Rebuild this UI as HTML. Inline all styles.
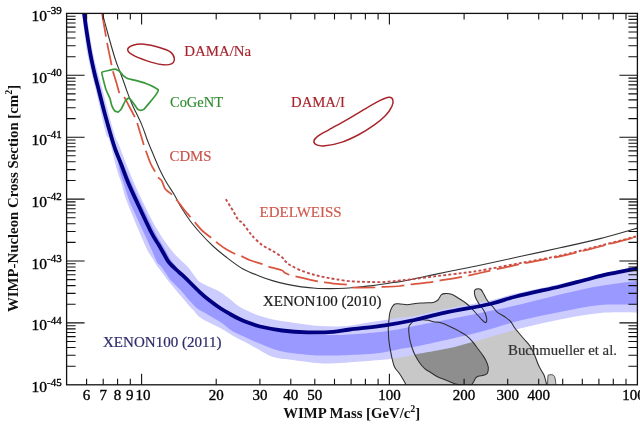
<!DOCTYPE html>
<html><head><meta charset="utf-8"><style>html,body{margin:0;padding:0;background:#fff;width:640px;height:425px;overflow:hidden}svg{display:block}</style></head>
<body><svg width="640" height="425" viewBox="0 0 640 425" font-family="'Liberation Serif', serif">
<rect width="640" height="425" fill="#fff"/>
<defs><clipPath id="c"><rect x="66.6" y="13.4" width="570.8" height="371.40000000000003"/></clipPath></defs>
<g clip-path="url(#c)">
  <path d="M406.7,386C406,384.8 403.9,380.9 402.7,378.8C401.5,376.7 400.7,375.4 399.4,373.5C398.1,371.6 395.9,369.6 394.8,367.6C393.7,365.6 393.5,364.2 392.8,361.7C392.1,359.2 391.5,355.9 390.8,352.4C390.1,348.9 389.3,344.3 388.9,340.6C388.5,336.9 388.4,332.6 388.3,330C388.2,327.4 388.3,328.1 388.5,325.3C388.7,322.6 389.1,316.5 389.7,313.5C390.3,310.5 391.2,308.7 392.1,307.1C393,305.5 393.6,304.4 395,303.9C396.4,303.4 398.2,303.8 400.3,303.9C402.4,304 404.8,304.8 407.4,304.7C409.9,304.6 412.9,303.8 415.6,303.5C418.3,303.2 420.9,303.1 423.8,302.9C426.7,302.7 430.9,302.9 433.2,302.4C435.5,301.9 436.5,301.3 437.9,300C439.3,298.7 440.2,295.8 441.5,294.7C442.8,293.6 443.7,293.7 445.4,293.6C447.1,293.5 449.3,293.5 451.6,294.3C453.9,295.1 456.5,297 459,298.5C461.5,300 464.1,301.7 466.4,303.5C468.7,305.3 470.7,307.4 472.6,309.4C474.5,311.4 476.4,313.8 478,315.5C479.6,317.2 480.9,318.7 482,319.8C483.1,320.9 483.9,321.9 484.6,322.2C485.4,322.5 486.2,322.4 486.5,321.8C486.8,321.2 486.8,319.9 486.6,318.5C486.4,317.1 485.9,315.1 485.3,313.5C484.7,311.9 483.8,310.5 482.8,309C481.8,307.5 480.5,305.9 479.5,304.5C478.5,303.1 477.8,301.9 477,300.5C476.2,299.1 475.4,297.5 475,296C474.6,294.5 474.3,292.6 474.4,291.5C474.5,290.4 474.9,289.8 475.5,289.3C476.1,288.8 477.4,288.7 478.3,288.7C479.2,288.7 480,288.8 480.8,289.5C481.6,290.2 482.3,291.3 483.2,292.9C484.1,294.4 485.2,297.1 486.2,298.8C487.2,300.5 488,301.6 489.1,302.9C490.2,304.2 491.2,304.9 492.6,306.5C494,308.1 495.4,310.7 497.4,312.4C499.4,314.1 502.2,315 504.4,316.5C506.5,318 508.6,319.4 510.3,321.2C512,323 513.1,325.7 514.4,327.5C515.7,329.3 516.4,330.1 518,332C519.6,333.9 522,336.7 524,339C526,341.3 528.2,343.2 530,346C531.8,348.8 533.7,353 535,356C536.3,359 537,361.7 538,364C539,366.3 540,368.2 541,370C542,371.8 543.2,373 544,375C544.8,377 545.5,380.2 546,382C546.5,383.8 546.8,385.3 547,386" fill="#c8c8c8"/>
  <path d="M547.5,386C547.6,384.3 547.7,377.9 548,376C548.3,374.1 548.7,375 549.5,374.8C550.3,374.6 552.1,374.5 553,375C553.9,375.5 554.5,376.2 555,378C555.5,379.8 555.8,384.7 556,386" fill="#c8c8c8" stroke="#444" stroke-width="0.9"/>
  <path d="M408.8,327.6C409,325.3 409.7,325.2 410.6,324.1C411.5,323 412.3,321.6 414.1,320.9C415.9,320.2 418.9,319.8 421.2,319.7C423.5,319.6 426.1,319.8 428.2,320.2C430.2,320.6 431.5,321.4 433.5,321.8C435.5,322.2 437.4,321.9 440,322.6C442.6,323.3 446.2,324.8 449.3,326.2C452.4,327.6 455.9,329.3 458.7,330.9C461.5,332.5 464.1,333.8 466.4,335.6C468.7,337.4 470.9,339.7 472.7,341.8C474.5,343.9 475.8,345.9 477.3,348C478.9,350.1 480.6,352.1 482,354.2C483.4,356.3 484.9,358.3 485.9,360.4C486.9,362.5 487.9,364.6 488.2,366.7C488.4,368.8 488.2,371.8 487.4,373.2C486.6,374.6 484.9,374.7 483.5,375.2C482.1,375.7 480.2,375.6 478.9,376C477.6,376.4 476.7,376.8 475.8,377.8C474.9,378.8 474.3,381 473.4,382.2C472.5,383.4 472.2,384.5 470.5,385C468.8,385.5 465.5,385.2 463,385C460.5,384.8 457.9,384.6 455.6,384C453.3,383.4 451.4,382.2 449.3,381.4C447.2,380.6 445.2,379.9 443.1,379.1C441.1,378.3 439.2,377.7 437,376.5C434.8,375.3 432.1,373.3 430,372C427.9,370.7 426.5,370.2 424.7,368.6C422.9,367 421,364.8 419.4,362.5C417.8,360.2 416.3,357.6 415,355C413.7,352.4 412.7,349.8 411.8,347C410.9,344.2 410,341.2 409.5,338C409,334.8 408.6,329.9 408.8,327.6Z" fill="#8e8e8e"/>
  <path d="M86,10C87.2,17.2 90.1,39.2 93,53C95.9,66.8 99.8,79.7 103.3,93C106.8,106.3 111.4,124.3 114,133C116.6,141.7 116.6,138.8 119,145C121.4,151.2 124.8,160.8 128.6,170C132.4,179.2 137.2,190 142,200C146.8,210 152.6,221.7 157.5,230C162.4,238.3 167.5,245 171.3,250C175.1,255 177.8,257.1 180.5,259.9C183.2,262.6 185,263.7 187.5,266.5C190,269.3 193.2,274.3 195.3,276.9C197.4,279.5 197.4,280.2 200,282C202.6,283.8 207.5,285.8 211,287.5C214.5,289.2 217.7,290.4 221,292.5C224.3,294.6 227.8,297.6 231,300C234.2,302.4 235.8,304.6 240,307C244.2,309.4 250.5,312.4 256,314.5C261.5,316.6 267.5,318.2 273,319.5C278.5,320.8 283.5,321.2 289,322C294.5,322.8 300.8,323.8 306,324.5C311.2,325.2 315.2,325.7 320,326C324.8,326.3 330,326.5 335,326.5C340,326.5 344.2,326.5 350,325.8C355.8,325.1 363.8,323.3 370,322.3C376.2,321.3 382.5,320.6 387.5,319.8C392.5,319 395.6,318.1 400,317.5C404.4,316.9 406.5,317.4 414,316C421.5,314.6 432.3,311.6 445,309C457.7,306.4 478.2,303.1 490,300.5C501.8,297.9 504.3,296.2 516,293.5C527.7,290.8 548.5,286.6 560,284C571.5,281.4 576.8,280 585,278C593.2,276 599.8,274 609,272C618.2,270 634.8,267 640,266L640,312.5C633.3,312.6 613.3,311.8 600,313C586.7,314.2 573.3,316.9 560,319.5C546.7,322.1 533.3,325.1 520,328.5C506.7,331.9 491.7,336.8 480,340C468.3,343.2 460,345.8 450,348C440,350.2 428.3,351.9 420,353.5C411.7,355.1 406.7,356.4 400,357.5C393.3,358.6 388.3,359.2 380,360C371.7,360.8 357.5,361.8 350,362.3C342.5,362.9 340,363.1 335,363.3C330,363.5 324.8,363.6 320,363.3C315.2,363.1 311.2,362.4 306,361.8C300.8,361.2 294.5,360.3 289,359.5C283.5,358.7 278.5,358.9 273,357C267.5,355.1 260.5,350.4 256,348C251.5,345.6 249.3,344.1 246,342.4C242.7,340.6 240.2,339.8 236,337.5C231.8,335.2 225.2,330.8 221,328.5C216.8,326.2 214.4,325.2 211,323.5C207.6,321.8 203.1,319.4 200.8,318C198.5,316.6 198.7,316.3 197.4,315C196.1,313.7 194.6,311.6 193.2,310C191.8,308.4 190.4,307.3 189,305.7C187.6,304.1 186.1,302.3 184.7,300.6C183.3,298.9 181.9,297.3 180.5,295.6C179.1,293.9 177.9,292.6 176.2,290.5C174.4,288.4 171.8,285.2 170,283C168.2,280.8 167.3,279.6 165.7,277.5C164.1,275.4 162.1,272.6 160.6,270.5C159.1,268.4 157.7,266.9 156.4,265C155.1,263.1 154.5,261.5 153,259C151.5,256.5 149.7,254.8 147.3,250C144.9,245.2 142.1,238.3 138.6,230C135.1,221.7 129.2,207.8 126.3,200C123.4,192.2 123,188 121.4,183C119.9,178 119,177.2 117,170C115,162.8 111.2,146.2 109.3,140C107.4,133.8 107.9,140.8 105.8,133C103.7,125.2 99.6,106.3 96.5,93C93.4,79.7 89.7,66.8 87.2,53C84.8,39.2 82.7,17.2 81.8,10Z" fill="#ccccff"/>
  <path d="M83.6,10C84.7,17.2 87.5,39.2 90.2,53C92.9,66.8 96.2,79.7 99.5,93C102.8,106.3 107.5,123.5 110.2,133C112.9,142.5 113.3,144.7 115.5,150C117.7,155.3 120.8,159.5 123.5,165C126.2,170.5 128.3,176.1 131.5,183C134.7,189.9 138.5,198.2 142.5,206.5C146.5,214.8 152,226.6 155.3,233C158.6,239.4 160.2,241.1 162.3,244.8C164.4,248.5 166.5,252.3 168,255C169.5,257.7 169.8,258.8 171.5,261C173.2,263.2 176,266.2 178,268.5C180,270.8 181.4,272.2 183.5,274.5C185.6,276.8 187.8,279 190.5,282C193.2,285 196.8,289.2 200,292.3C203.2,295.4 206.7,298.2 210,300.8C213.3,303.4 216.7,305.8 220,308C223.3,310.2 226.7,312.1 230,314C233.3,315.9 236.7,317.8 240,319.3C243.3,320.9 246.7,322.1 250,323.3C253.3,324.5 254.7,325.3 260,326.5C265.3,327.7 274,329.3 282,330.5C290,331.7 300,333.1 308,333.8C316,334.6 323,334.9 330,335C337,335.1 341.7,335 350,334.5C358.3,334 371.7,332.9 380,332C388.3,331.1 393.3,330.2 400,329C406.7,327.8 412.5,326.5 420,325C427.5,323.5 435,322 445,320C455,318 467.5,315.6 480,313C492.5,310.4 506.7,307.6 520,304.5C533.3,301.4 546.7,297.6 560,294.5C573.3,291.4 586.7,288.3 600,286C613.3,283.7 633.3,281.4 640,280.5L640,305C633.3,305 613.3,303.8 600,305C586.7,306.2 573.3,309.4 560,312C546.7,314.6 533.3,317.2 520,320.5C506.7,323.8 491.7,328.9 480,332C468.3,335.1 460,336.7 450,339C440,341.3 428.3,344.1 420,345.8C411.7,347.5 406.7,347.8 400,349C393.3,350.2 388.3,352 380,353C371.7,354 358.3,354.6 350,355C341.7,355.4 336.7,355.5 330,355.5C323.3,355.5 318.3,355.8 310,355C301.7,354.2 289,353.2 280,351C271,348.8 261.8,344.3 256,342C250.2,339.7 248.8,338.8 245,337C241.2,335.2 237,333.9 233,331.5C229,329.1 224.7,325 221,322.5C217.3,320 213.7,318.1 211,316.5C208.3,314.9 207.3,314.3 205,313C202.7,311.7 200.1,310.7 197.4,308.5C194.7,306.3 191.8,303.1 189,300C186.2,296.9 182.8,292.5 180.5,290C178.2,287.5 177.2,286.8 175.5,285C173.8,283.2 171.6,281.5 170,279.5C168.4,277.5 167.1,275.1 165.7,273C164.3,270.9 162.9,268.8 161.5,267C160.1,265.2 158.6,264.8 157,262C155.4,259.2 154.2,255.3 151.8,250C149.4,244.7 145.9,237.2 142.6,230C139.3,222.8 134.1,211.5 131.8,206.5C129.5,201.5 130.4,203.9 129,200C127.6,196.1 125.2,188 123.6,183C122,178 120.8,175.5 119.5,170C118.2,164.5 117,156.2 115.5,150C114,143.8 112.9,142.5 110.2,133C107.5,123.5 102.8,106.3 99.5,93C96.2,79.7 92.9,66.8 90.2,53C87.5,39.2 84.7,17.2 83.6,10Z" fill="#9999ff"/>
  <path d="M406.7,386C406,384.8 403.9,380.9 402.7,378.8C401.5,376.7 400.7,375.4 399.4,373.5C398.1,371.6 395.9,369.6 394.8,367.6C393.7,365.6 393.5,364.2 392.8,361.7C392.1,359.2 391.5,355.9 390.8,352.4C390.1,348.9 389.3,344.3 388.9,340.6C388.5,336.9 388.4,332.6 388.3,330C388.2,327.4 388.3,328.1 388.5,325.3C388.7,322.6 389.1,316.5 389.7,313.5C390.3,310.5 391.2,308.7 392.1,307.1C393,305.5 393.6,304.4 395,303.9C396.4,303.4 398.2,303.8 400.3,303.9C402.4,304 404.8,304.8 407.4,304.7C409.9,304.6 412.9,303.8 415.6,303.5C418.3,303.2 420.9,303.1 423.8,302.9C426.7,302.7 430.9,302.9 433.2,302.4C435.5,301.9 436.5,301.3 437.9,300C439.3,298.7 440.2,295.8 441.5,294.7C442.8,293.6 443.7,293.7 445.4,293.6C447.1,293.5 449.3,293.5 451.6,294.3C453.9,295.1 456.5,297 459,298.5C461.5,300 464.1,301.7 466.4,303.5C468.7,305.3 470.7,307.4 472.6,309.4C474.5,311.4 476.4,313.8 478,315.5C479.6,317.2 480.9,318.7 482,319.8C483.1,320.9 483.9,321.9 484.6,322.2C485.4,322.5 486.2,322.4 486.5,321.8C486.8,321.2 486.8,319.9 486.6,318.5C486.4,317.1 485.9,315.1 485.3,313.5C484.7,311.9 483.8,310.5 482.8,309C481.8,307.5 480.5,305.9 479.5,304.5C478.5,303.1 477.8,301.9 477,300.5C476.2,299.1 475.4,297.5 475,296C474.6,294.5 474.3,292.6 474.4,291.5C474.5,290.4 474.9,289.8 475.5,289.3C476.1,288.8 477.4,288.7 478.3,288.7C479.2,288.7 480,288.8 480.8,289.5C481.6,290.2 482.3,291.3 483.2,292.9C484.1,294.4 485.2,297.1 486.2,298.8C487.2,300.5 488,301.6 489.1,302.9C490.2,304.2 491.2,304.9 492.6,306.5C494,308.1 495.4,310.7 497.4,312.4C499.4,314.1 502.2,315 504.4,316.5C506.5,318 508.6,319.4 510.3,321.2C512,323 513.1,325.7 514.4,327.5C515.7,329.3 516.4,330.1 518,332C519.6,333.9 522,336.7 524,339C526,341.3 528.2,343.2 530,346C531.8,348.8 533.7,353 535,356C536.3,359 537,361.7 538,364C539,366.3 540,368.2 541,370C542,371.8 543.2,373 544,375C544.8,377 545.5,380.2 546,382C546.5,383.8 546.8,385.3 547,386" fill="none" stroke="#2e2e2e" stroke-width="1.05"/>
  <path d="M408.8,327.6C409,325.3 409.7,325.2 410.6,324.1C411.5,323 412.3,321.6 414.1,320.9C415.9,320.2 418.9,319.8 421.2,319.7C423.5,319.6 426.1,319.8 428.2,320.2C430.2,320.6 431.5,321.4 433.5,321.8C435.5,322.2 437.4,321.9 440,322.6C442.6,323.3 446.2,324.8 449.3,326.2C452.4,327.6 455.9,329.3 458.7,330.9C461.5,332.5 464.1,333.8 466.4,335.6C468.7,337.4 470.9,339.7 472.7,341.8C474.5,343.9 475.8,345.9 477.3,348C478.9,350.1 480.6,352.1 482,354.2C483.4,356.3 484.9,358.3 485.9,360.4C486.9,362.5 487.9,364.6 488.2,366.7C488.4,368.8 488.2,371.8 487.4,373.2C486.6,374.6 484.9,374.7 483.5,375.2C482.1,375.7 480.2,375.6 478.9,376C477.6,376.4 476.7,376.8 475.8,377.8C474.9,378.8 474.3,381 473.4,382.2C472.5,383.4 472.2,384.5 470.5,385C468.8,385.5 465.5,385.2 463,385C460.5,384.8 457.9,384.6 455.6,384C453.3,383.4 451.4,382.2 449.3,381.4C447.2,380.6 445.2,379.9 443.1,379.1C441.1,378.3 439.2,377.7 437,376.5C434.8,375.3 432.1,373.3 430,372C427.9,370.7 426.5,370.2 424.7,368.6C422.9,367 421,364.8 419.4,362.5C417.8,360.2 416.3,357.6 415,355C413.7,352.4 412.7,349.8 411.8,347C410.9,344.2 410,341.2 409.5,338C409,334.8 408.6,329.9 408.8,327.6Z" fill="none" stroke="#2e2e2e" stroke-width="1.05"/>
  <path d="M101.5,10C102.7,14.3 106.2,27.7 108.5,36C110.8,44.3 113.6,54 115.5,60C117.4,66 118.7,68.3 120,71.8C121.3,75.3 122.2,77.7 123.5,81.2C124.8,84.7 126.1,89 127.6,92.9C129.1,96.8 130,99.5 132.3,104.7C134.6,110 139.1,118.5 141.6,124.4C144.1,130.3 145.7,135.7 147.3,140C148.9,144.3 149.3,145 151.4,150C153.5,155 157.3,164.4 159.8,169.8C162.3,175.2 164,178.3 166.5,182.5C169,186.7 172.3,191.2 174.6,195.2C176.9,199.2 177.9,202.1 180.5,206.3C183.1,210.5 186.7,216.1 189.9,220.5C193.1,224.9 196,228.2 199.8,232.5C203.6,236.8 208.5,241.9 212.9,246C217.3,250.1 221.2,253.2 226.1,257C231,260.8 237.1,265.6 242.6,268.7C248.1,271.8 254,273.9 259.1,275.9C264.2,277.9 268.5,279.5 273.2,280.9C277.9,282.3 282.6,283.4 287.3,284.4C292,285.4 296.7,286.2 301.4,286.9C306.1,287.5 310.7,288 315.5,288.3C320.3,288.6 325.1,288.6 330,288.6C334.9,288.6 340.2,288.5 345,288.2C349.8,287.9 354.1,287.4 358.7,287C363.3,286.6 368.9,286.1 372.8,285.6C376.7,285.1 379.1,284.7 382.2,284.2C385.3,283.7 388.6,283.2 391.6,282.8C394.6,282.4 394.4,282.7 400,281.6C405.6,280.6 416.7,278.2 425,276.5C433.3,274.8 440.8,273.1 450,271.2C459.2,269.3 468.5,267.6 480,265.2C491.5,262.8 505.5,259.7 518.8,256.8C532.1,253.9 546.5,250.8 560,247.8C573.5,244.8 586.7,242 600,238.6C613.3,235.2 633.3,229.2 640,227.3" fill="none" stroke="#333" stroke-width="1.1"/>
  <path d="M225.8,199.2C226.5,200.3 228.6,203.7 230,206C231.4,208.3 233,210.9 234.4,213.2C235.8,215.5 237,218.3 238.4,220C239.8,221.7 240.7,220.9 242.6,223.1C244.5,225.3 248.4,230.9 250,233C251.6,235.1 250.1,233.7 252.1,235.7C254.1,237.7 258.4,242.3 261.9,244.9C265.4,247.5 269.8,249.1 273.2,251.2C276.6,253.3 280.3,255.8 282.4,257.6C284.5,259.4 284.4,260.4 285.9,261.8C287.4,263.2 288.5,264.4 291.6,266C294.7,267.6 300.3,270.2 304.3,271.7C308.3,273.2 312.1,274.3 315.5,275.2C318.9,276.1 321.6,276.6 325,277.3C328.4,278 331.2,278.5 335.6,279.2C340,279.9 346.1,280.9 351.3,281.3C356.5,281.8 361.7,281.8 366.9,281.9C372.1,282 377.3,282.3 382.5,282.1C387.7,281.9 393.1,281.3 398.1,280.8C403.1,280.3 405.9,280 412.5,279.2C419.1,278.4 429.2,277 437.5,276C445.8,275 455.4,273.9 462.5,273C469.6,272.1 470.6,272.2 480,270.6C489.4,269 505.5,265.9 518.8,263.4C532.1,260.9 546.5,258.5 560,255.6C573.5,252.7 586.7,249.2 600,245.8C613.3,242.5 633.3,237.2 640,235.5" fill="none" stroke="#c44a48" stroke-width="1.9" stroke-dasharray="2.9 2.2"/>
  <path d="M101.5,10C102.4,15.2 105.3,32.9 106.8,41.2C108.3,49.5 109.6,55 110.6,60C111.6,65 111.9,67.4 112.9,71.2C113.9,75 115.4,79.3 116.5,83C117.6,86.7 118.6,91.1 119.4,93.2C120.2,95.3 120.7,94.9 121.5,95.5C122.3,96.1 122.8,95 124.1,96.8C125.3,98.5 127.2,102.7 129,106C130.8,109.3 133.3,114 134.7,116.8C136,119.6 135.7,118.2 137.1,122.6C138.5,127 141.9,138.7 143.3,143.3C144.7,147.9 144.4,146.6 145.6,150C146.8,153.4 149.1,160 150.6,163.5C152.1,167 153.5,168.9 154.8,171.2C156.1,173.5 157.2,175.8 158.4,177.5C159.6,179.2 160.9,179.3 161.9,181.1C162.9,182.9 163.7,186.4 164.7,188.1C165.7,189.8 166.8,190.4 168,191.5C169.2,192.6 170.2,192.9 171.8,194.5C173.4,196.1 175.4,198.3 177.4,200.8C179.4,203.3 181.7,206.7 183.8,209.3C185.9,211.9 188.1,214.3 189.9,216.5C191.7,218.7 192.8,219.9 194.8,222.2C196.8,224.5 199.2,227.9 202,230.5C204.8,233.1 208.9,236 211.3,237.9C213.7,239.8 213.9,240.2 216.2,242C218.5,243.8 221.8,246.5 225,248.5C228.2,250.5 232.5,252.8 235.2,254C237.9,255.2 238.5,254.9 241,256C243.5,257.1 246.4,258.9 250,260.3C253.6,261.7 259.4,263.1 262.6,264.2C265.8,265.3 265.8,265.8 269,266.8C272.2,267.8 279,269.2 281.7,270.3C284.4,271.4 283.9,272.4 285.2,273.1C286.5,273.9 287.5,274.2 289.4,274.8C291.3,275.4 291.8,275.5 296.5,276.6C301.2,277.7 313,280.4 317.7,281.3C322.4,282.2 321,281.8 324.7,282.3C328.4,282.8 336.2,283.8 340,284.2C343.8,284.6 345.5,284.3 347.5,284.8C349.5,285.3 347.7,286.9 352.2,287.3C356.7,287.8 369.9,287.6 374.7,287.5C379.5,287.4 377,287.2 381.2,287C385.4,286.8 395.1,286.4 400,286C404.9,285.6 405.1,285.1 410.6,284.4C416.1,283.7 428.3,282.5 433.1,281.9C437.9,281.3 434.6,281.4 439.4,280.6C444.2,279.8 455.1,278.2 461.9,276.9C468.7,275.6 470.5,275.1 480,273C489.5,270.9 505.5,267.2 518.8,264.4C532.1,261.6 546.5,259.4 560,256.4C573.5,253.4 586.7,249.9 600,246.5C613.3,243.1 633.3,237.8 640,236" fill="none" stroke="#d9553f" stroke-width="1.75" stroke-dasharray="22.7 6.5" stroke-dashoffset="25.2"/>
  <path d="M127.7,49.7C127.7,48.1 130.4,46.2 133.1,45.3C135.8,44.4 139.7,43.8 144.1,44.2C148.5,44.6 155,46.2 159.4,47.5C163.8,48.8 167.8,50.1 170.3,51.9C172.8,53.7 174.1,56.4 174.3,58.4C174.5,60.4 173.5,62.9 171.4,63.9C169.3,64.9 165.8,65.1 161.6,64.6C157.4,64 151.1,62.2 146.3,60.6C141.6,59 136.2,57 133.1,55.2C130,53.4 127.7,51.4 127.7,49.7Z" fill="none" stroke="#a8242c" stroke-width="1.5"/>
  <path d="M313.9,141.1C314,139.7 315.1,138.3 317.6,136.4C320.1,134.5 324.2,132.5 328.9,129.8C333.6,127.1 339.9,123.8 345.8,120.4C351.8,117 359,112.5 364.6,109.2C370.2,105.9 375.6,102.7 379.7,100.7C383.8,98.7 386.9,97.5 389.1,97.3C391.3,97.1 392.3,98.2 392.8,99.7C393.3,101.2 393.1,103.6 391.9,106.3C390.6,109 388.3,112.6 385.3,115.7C382.3,118.8 378.4,122 374,125.1C369.6,128.2 364.3,131.7 359,134.5C353.7,137.3 347.8,140.2 342.1,142.1C336.5,144 329.3,145.3 325.1,145.8C320.9,146.3 318.6,145.7 316.7,144.9C314.8,144.1 313.8,142.5 313.9,141.1Z" fill="none" stroke="#a8242c" stroke-width="1.5"/>
  <path d="M101.8,72.4C102.2,71.6 114.6,69.2 115.3,69.2C116,69.2 119.1,70.9 119.4,71.2C119.7,71.5 123.1,75.6 123.5,75.9C123.9,76.2 127.7,78.6 128.2,78.8C128.7,79 135.8,80.4 136.5,80.6C137.2,80.8 144.5,82.9 145.3,83.2C146.1,83.5 154.2,87.1 154.7,87.4C155.2,87.7 158.1,89.5 158.2,89.7C158.3,89.9 157.9,91.6 157.6,92.1C157.3,92.6 150.6,101.4 150,102.1C149.4,102.8 144.5,108.8 144.1,109.1C143.7,109.4 140.9,110.3 140.6,110.3C140.3,110.3 137.9,109.4 137.6,109.1C137.3,108.8 133.9,103.7 133.5,103.2C133.1,102.7 129.1,98 128.8,97.9C128.5,97.8 125.6,100.4 125.3,100.9C125,101.4 121.5,108.6 121.2,109.1C120.9,109.6 118.5,112 118.2,112.1C117.9,112.2 115,111.2 114.7,110.9C114.4,110.6 112,106.1 111.8,105.6C111.6,105.1 110.2,99.2 110,98.5C109.8,97.8 106.2,90.5 105.9,89.4C105.6,88.3 101.4,73.2 101.8,72.4Z" fill="none" stroke="#3a983a" stroke-width="1.7" stroke-linejoin="round"/>
  <path d="M83.6,10C84.1,13.3 85.3,22.8 86.4,30C87.5,37.2 88.9,45.8 90.2,53C91.5,60.2 92.9,66.3 94.4,73C96,79.7 97.8,86.3 99.5,93C101.2,99.7 102.8,106.3 104.6,113C106.4,119.7 108.4,126.8 110.2,133C112,139.2 113.6,144.7 115.5,150C117.4,155.3 119.4,159.5 121.5,165C123.6,170.5 125.4,176.1 128.3,183C131.2,189.9 135.1,198.2 139,206.5C142.9,214.8 148.3,226.6 151.6,233C154.9,239.4 156.5,241.1 158.7,244.8C160.8,248.5 162.9,252.2 164.5,255C166.1,257.8 166.4,259.1 168.3,261.5C170.2,263.9 173.6,267.2 176,269.5C178.4,271.8 180.2,273 182.5,275.2C184.8,277.4 187.1,279.6 190,282.5C192.9,285.4 196.7,289.2 200,292.3C203.3,295.4 206.7,298.2 210,300.8C213.3,303.4 216.7,305.8 220,308C223.3,310.2 226.7,312.1 230,314C233.3,315.9 236.7,317.8 240,319.3C243.3,320.9 246.7,322.1 250,323.3C253.3,324.5 254.7,325.3 260,326.5C265.3,327.7 274,329.5 282,330.5C290,331.5 299.5,332.1 308,332.3C316.5,332.5 326,332.3 333,331.8C340,331.3 341.3,330.6 350,329.5C358.7,328.4 374.3,326.9 385,325.3C395.7,323.7 404.4,322.1 414.4,320C424.4,317.9 432.4,315.4 445,312.7C457.6,310 478.2,306.7 490,304C501.8,301.3 504.3,299.4 516,296.5C527.7,293.6 548.5,289.2 560,286.5C571.5,283.8 576.8,282.1 585,280C593.2,277.9 599.8,275.9 609,273.9C618.2,271.9 634.8,268.8 640,267.8" fill="none" stroke="#000080" stroke-width="3.8"/>
</g>
<path d="M86.6,384.8v-6M86.6,13.4v6M103.2,384.8v-6M103.2,13.4v6M117.6,384.8v-6M117.6,13.4v6M130.3,384.8v-6M130.3,13.4v6M216.2,384.8v-6M216.2,13.4v6M259.9,384.8v-6M259.9,13.4v6M290.8,384.8v-6M290.8,13.4v6M314.8,384.8v-6M314.8,13.4v6M334.5,384.8v-6M334.5,13.4v6M351.1,384.8v-6M351.1,13.4v6M365.4,384.8v-6M365.4,13.4v6M378.1,384.8v-6M378.1,13.4v6M464.1,384.8v-6M464.1,13.4v6M507.7,384.8v-6M507.7,13.4v6M538.7,384.8v-6M538.7,13.4v6M562.7,384.8v-6M562.7,13.4v6M582.3,384.8v-6M582.3,13.4v6M598.9,384.8v-6M598.9,13.4v6M613.3,384.8v-6M613.3,13.4v6M626.0,384.8v-6M626.0,13.4v6M141.6,384.8v-11M141.6,13.4v11M389.4,384.8v-11M389.4,13.4v11M66.6,56.7h9M637.4,56.7h-9M66.6,45.8h9M637.4,45.8h-9M66.6,38.0h9M637.4,38.0h-9M66.6,32.0h9M637.4,32.0h-9M66.6,27.1h9M637.4,27.1h-9M66.6,23.0h9M637.4,23.0h-9M66.6,19.4h9M637.4,19.4h-9M66.6,16.2h9M637.4,16.2h-9M66.6,75.3h18M637.4,75.3h-18M66.6,118.6h9M637.4,118.6h-9M66.6,107.7h9M637.4,107.7h-9M66.6,99.9h9M637.4,99.9h-9M66.6,93.9h9M637.4,93.9h-9M66.6,89.0h9M637.4,89.0h-9M66.6,84.9h9M637.4,84.9h-9M66.6,81.3h9M637.4,81.3h-9M66.6,78.1h9M637.4,78.1h-9M66.6,137.2h18M637.4,137.2h-18M66.6,180.5h9M637.4,180.5h-9M66.6,169.6h9M637.4,169.6h-9M66.6,161.8h9M637.4,161.8h-9M66.6,155.8h9M637.4,155.8h-9M66.6,150.9h9M637.4,150.9h-9M66.6,146.8h9M637.4,146.8h-9M66.6,143.2h9M637.4,143.2h-9M66.6,140.0h9M637.4,140.0h-9M66.6,199.1h18M637.4,199.1h-18M66.6,242.4h9M637.4,242.4h-9M66.6,231.5h9M637.4,231.5h-9M66.6,223.7h9M637.4,223.7h-9M66.6,217.7h9M637.4,217.7h-9M66.6,212.8h9M637.4,212.8h-9M66.6,208.7h9M637.4,208.7h-9M66.6,205.1h9M637.4,205.1h-9M66.6,201.9h9M637.4,201.9h-9M66.6,261.0h18M637.4,261.0h-18M66.6,304.3h9M637.4,304.3h-9M66.6,293.4h9M637.4,293.4h-9M66.6,285.6h9M637.4,285.6h-9M66.6,279.6h9M637.4,279.6h-9M66.6,274.7h9M637.4,274.7h-9M66.6,270.6h9M637.4,270.6h-9M66.6,267.0h9M637.4,267.0h-9M66.6,263.8h9M637.4,263.8h-9M66.6,322.9h18M637.4,322.9h-18M66.6,366.2h9M637.4,366.2h-9M66.6,355.3h9M637.4,355.3h-9M66.6,347.5h9M637.4,347.5h-9M66.6,341.5h9M637.4,341.5h-9M66.6,336.6h9M637.4,336.6h-9M66.6,332.5h9M637.4,332.5h-9M66.6,328.9h9M637.4,328.9h-9M66.6,325.7h9M637.4,325.7h-9" stroke="#111" stroke-width="1.1" fill="none"/>
<rect x="66.6" y="13.4" width="570.8" height="371.40000000000003" fill="none" stroke="#111" stroke-width="1.3"/>
<text x="31.6" y="20.9" font-size="15.5" fill="#000" stroke="#000" stroke-width="0.35" font-weight="normal" text-anchor="start" >10</text><text x="47.0" y="14.3" font-size="11" fill="#000" stroke="#000" stroke-width="0.35" font-weight="normal" text-anchor="start" >-39</text><text x="31.6" y="82.8" font-size="15.5" fill="#000" stroke="#000" stroke-width="0.35" font-weight="normal" text-anchor="start" >10</text><text x="47.0" y="76.2" font-size="11" fill="#000" stroke="#000" stroke-width="0.35" font-weight="normal" text-anchor="start" >-40</text><text x="31.6" y="144.7" font-size="15.5" fill="#000" stroke="#000" stroke-width="0.35" font-weight="normal" text-anchor="start" >10</text><text x="47.0" y="138.1" font-size="11" fill="#000" stroke="#000" stroke-width="0.35" font-weight="normal" text-anchor="start" >-41</text><text x="31.6" y="206.6" font-size="15.5" fill="#000" stroke="#000" stroke-width="0.35" font-weight="normal" text-anchor="start" >10</text><text x="47.0" y="200.0" font-size="11" fill="#000" stroke="#000" stroke-width="0.35" font-weight="normal" text-anchor="start" >-42</text><text x="31.6" y="268.5" font-size="15.5" fill="#000" stroke="#000" stroke-width="0.35" font-weight="normal" text-anchor="start" >10</text><text x="47.0" y="261.9" font-size="11" fill="#000" stroke="#000" stroke-width="0.35" font-weight="normal" text-anchor="start" >-43</text><text x="31.6" y="330.4" font-size="15.5" fill="#000" stroke="#000" stroke-width="0.35" font-weight="normal" text-anchor="start" >10</text><text x="47.0" y="323.8" font-size="11" fill="#000" stroke="#000" stroke-width="0.35" font-weight="normal" text-anchor="start" >-44</text><text x="31.6" y="392.3" font-size="15.5" fill="#000" stroke="#000" stroke-width="0.35" font-weight="normal" text-anchor="start" >10</text><text x="47.0" y="385.7" font-size="11" fill="#000" stroke="#000" stroke-width="0.35" font-weight="normal" text-anchor="start" >-45</text><text x="86.6" y="400.3" font-size="15" fill="#000" stroke="#000" stroke-width="0.35" font-weight="normal" text-anchor="middle" >6</text><text x="103.2" y="400.3" font-size="15" fill="#000" stroke="#000" stroke-width="0.35" font-weight="normal" text-anchor="middle" >7</text><text x="117.6" y="400.3" font-size="15" fill="#000" stroke="#000" stroke-width="0.35" font-weight="normal" text-anchor="middle" >8</text><text x="129.8" y="400.3" font-size="15" fill="#000" stroke="#000" stroke-width="0.35" font-weight="normal" text-anchor="middle" >9</text><text x="143.1" y="400.3" font-size="15" fill="#000" stroke="#000" stroke-width="0.35" font-weight="normal" text-anchor="middle" >10</text><text x="216.2" y="400.3" font-size="15" fill="#000" stroke="#000" stroke-width="0.35" font-weight="normal" text-anchor="middle" >20</text><text x="259.9" y="400.3" font-size="15" fill="#000" stroke="#000" stroke-width="0.35" font-weight="normal" text-anchor="middle" >30</text><text x="290.8" y="400.3" font-size="15" fill="#000" stroke="#000" stroke-width="0.35" font-weight="normal" text-anchor="middle" >40</text><text x="314.8" y="400.3" font-size="15" fill="#000" stroke="#000" stroke-width="0.35" font-weight="normal" text-anchor="middle" >50</text><text x="389.4" y="400.3" font-size="15" fill="#000" stroke="#000" stroke-width="0.35" font-weight="normal" text-anchor="middle" >100</text><text x="464.1" y="400.3" font-size="15" fill="#000" stroke="#000" stroke-width="0.35" font-weight="normal" text-anchor="middle" >200</text><text x="507.7" y="400.3" font-size="15" fill="#000" stroke="#000" stroke-width="0.35" font-weight="normal" text-anchor="middle" >300</text><text x="538.7" y="400.3" font-size="15" fill="#000" stroke="#000" stroke-width="0.35" font-weight="normal" text-anchor="middle" >400</text><text x="637.3" y="400.3" font-size="15" fill="#000" stroke="#000" stroke-width="0.35" font-weight="normal" text-anchor="middle" >1000</text>

<text x="184.2" y="55.8" font-size="14.5" fill="#a8242c" stroke="#a8242c" stroke-width="0.15" font-weight="normal" text-anchor="start" textLength="67" lengthAdjust="spacingAndGlyphs" >DAMA/Na</text>
<text x="291.0" y="107.3" font-size="14.5" fill="#a8242c" stroke="#a8242c" stroke-width="0.15" font-weight="normal" text-anchor="start" textLength="54" lengthAdjust="spacingAndGlyphs" >DAMA/I</text>
<text x="170.0" y="106.9" font-size="14.5" fill="#2f8c2f" stroke="#2f8c2f" stroke-width="0.15" font-weight="normal" text-anchor="start" textLength="53" lengthAdjust="spacingAndGlyphs" >CoGeNT</text>
<text x="169.5" y="160.6" font-size="14.5" fill="#c8504a" stroke="#c8504a" stroke-width="0.15" font-weight="normal" text-anchor="start" textLength="42" lengthAdjust="spacingAndGlyphs" >CDMS</text>
<text x="259.6" y="217.2" font-size="14.5" fill="#d0564a" stroke="#d0564a" stroke-width="0.15" font-weight="normal" text-anchor="start" textLength="82" lengthAdjust="spacingAndGlyphs" >EDELWEISS</text>
<text x="263.0" y="306.2" font-size="14.5" fill="#1a1a1a" stroke="#1a1a1a" stroke-width="0.2" font-weight="normal" text-anchor="start" textLength="118.5" lengthAdjust="spacingAndGlyphs" >XENON100 (2010)</text>
<text x="103.0" y="346.9" font-size="14.5" fill="#2c2c6c" stroke="#2c2c6c" stroke-width="0.2" font-weight="normal" text-anchor="start" textLength="118.5" lengthAdjust="spacingAndGlyphs" >XENON100 (2011)</text>
<text x="508.0" y="354.7" font-size="14.5" fill="#333" stroke="#333" stroke-width="0.2" font-weight="normal" text-anchor="start" textLength="109" lengthAdjust="spacingAndGlyphs" >Buchmueller et al.</text>

<text x="283.3" y="418.2" font-size="14.75" font-weight="bold" fill="#111">WIMP Mass [GeV/c<tspan dy="-6" font-size="10">2</tspan><tspan dy="6">]</tspan></text>
<text transform="translate(18.4,312) rotate(-90)" x="0" y="0" font-size="14.8" font-weight="bold" fill="#111">WIMP-Nucleon Cross Section [cm<tspan dy="-6" font-size="10">2</tspan><tspan dy="6">]</tspan></text>
</svg></body></html>
